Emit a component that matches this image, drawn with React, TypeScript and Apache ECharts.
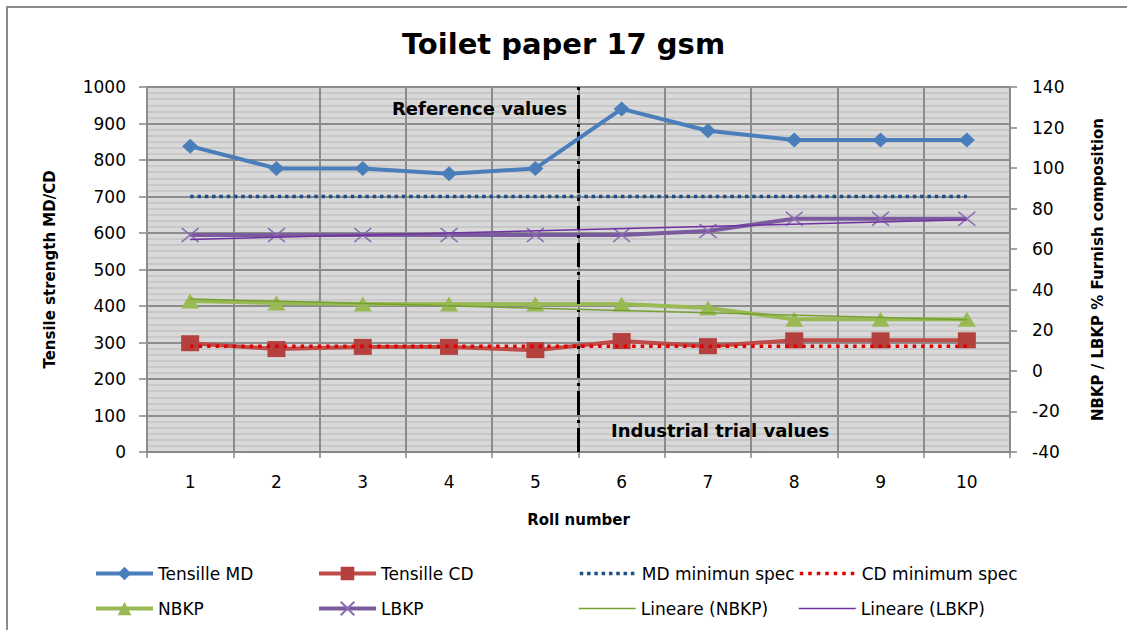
import React, { useEffect, useRef } from "react";
import * as echarts from "echarts";

// ---- data ----
const rolls = ["1", "2", "3", "4", "5", "6", "7", "8", "9", "10"];
const tensileMD = [838, 777, 777, 762, 777, 940, 880, 855, 855, 855];
const tensileCD = [298, 282, 288, 288, 279, 304, 290, 306, 306, 306];
const mdMinSpec = [700, 700, 700, 700, 700, 700, 700, 700, 700, 700];
const cdMinSpec = [290, 290, 290, 290, 290, 290, 290, 290, 290, 290];
const nbkp = [34.5, 33.5, 33, 33, 33, 33, 31, 25.5, 25.5, 25.5];
const lbkp = [67, 67, 67, 67, 67, 67, 69, 75, 75, 75];
const trendX = [1, 10];
const nbkpTrend = [35.5, 25.2];
const lbkpTrend = [64.8, 74.5];
const dividerAt = 5.5;

const leftAxis = { min: 0, max: 1000, interval: 100 };
const rightAxis = { min: -40, max: 140, interval: 20 };

const FONT = "DejaVu Sans";

export default function App() {
  const ref = useRef<HTMLDivElement>(null);
  useEffect(() => {
    document.body.style.margin = "0";
    const chart = echarts.init(ref.current!, null, { renderer: "svg" });
    const axisLineStyle = { color: "#868686", width: 1.5 };
    const labelStyle = {
      color: "#000",
      fontSize: 17,
      fontFamily: FONT,
      formatter: (v: any) => String(v),
    };
    const nameStyle = { color: "#000", fontSize: 15, fontWeight: "bold" as const, fontFamily: FONT };

    const legendItem = (
      name: string,
      left: number,
      top: number,
      width: number,
      hideSymbol = false
    ) => ({
      data: [name],
      left,
      top,
      padding: 0,
      itemWidth: 57,
      itemHeight: 17,
      itemGap: 0,
      lineStyle: { width },
      itemStyle: hideSymbol ? { opacity: 0 } : {},
      textStyle: { color: "#000", fontSize: 17, fontFamily: FONT },
    });

    const option: any = {
      animation: false,
      backgroundColor: "#fff",
      textStyle: { fontFamily: FONT },
      title: {
        text: "Toilet paper 17 gsm",
        left: "center",
        top: 24,
        textStyle: { fontSize: 29, fontWeight: "bold", color: "#000", fontFamily: FONT },
      },
      legend: [
        legendItem("Tensille MD", 94, 565, 4),
        legendItem("Tensille CD", 317, 565, 4),
        legendItem("MD minimun spec", 578, 565, 3.5, true),
        legendItem("CD minimum spec", 798, 565, 3.5, true),
        legendItem("NBKP", 94, 600, 4),
        legendItem("LBKP", 317, 600, 4),
        legendItem("Lineare (NBKP)", 578, 600, 1.5, true),
        legendItem("Lineare (LBKP)", 798, 600, 1.5, true),
      ],
      grid: {
        left: 147,
        top: 87,
        right: 117,
        bottom: 178,
        show: true,
        backgroundColor: "#d9d9d9",
        borderWidth: 0,
      },
      xAxis: [
        {
          type: "category",
          data: rolls,
          boundaryGap: true,
          name: "Roll number",
          nameLocation: "middle",
          nameGap: 60,
          nameTextStyle: nameStyle,
          axisLine: { lineStyle: axisLineStyle },
          axisTick: { show: true, length: 6, lineStyle: axisLineStyle },
          axisLabel: { color: "#000", fontSize: 17, fontFamily: FONT, margin: 21 },
          splitLine: { show: true, lineStyle: { color: "#8c8c8c", width: 2 } },
          z: 2,
        },
        {
          type: "value",
          min: 0.5,
          max: 10.5,
          interval: 1,
          position: "bottom",
          axisLine: { show: false },
          axisTick: { show: false },
          axisLabel: { show: false },
          splitLine: { show: true, lineStyle: { color: "#bdbdbd", width: 2 } },
          z: 1,
        },
      ],
      yAxis: [
        {
          type: "value",
          ...leftAxis,
          name: "Tensile strength MD/CD",
          nameLocation: "middle",
          nameRotate: 90,
          nameGap: 90,
          nameTextStyle: nameStyle,
          axisLine: { show: true, lineStyle: axisLineStyle },
          axisTick: { show: true, length: 8, lineStyle: axisLineStyle },
          axisLabel: { ...labelStyle, margin: 21 },
          splitLine: { show: true, lineStyle: { color: "#8c8c8c", width: 2 } },
          minorTick: { show: false, splitNumber: 6 },
          minorSplitLine: { show: true, lineStyle: { color: "#c2c2c2", width: 1.5 } },
        },
        {
          type: "value",
          ...rightAxis,
          position: "right",
          name: "NBKP / LBKP % Furnish composition",
          nameLocation: "middle",
          nameRotate: 90,
          nameGap: 80,
          nameTextStyle: nameStyle,
          axisLine: { show: true, lineStyle: axisLineStyle },
          axisTick: { show: true, length: 7, lineStyle: axisLineStyle },
          axisLabel: { ...labelStyle, margin: 22 },
          splitLine: { show: false },
        },
      ],
      series: [
        {
          name: "Tensille MD",
          type: "line",
          data: tensileMD,
          symbol: "diamond",
          symbolSize: [16, 15],
          color: "#4a7ebb",
          lineStyle: { width: 4, color: "#4a7ebb" },
          itemStyle: { color: "#4a7ebb" },
          z: 5,
        },
        {
          name: "Tensille CD",
          type: "line",
          data: tensileCD,
          symbol: "rect",
          symbolSize: [18, 16],
          color: "#be4b48",
          lineStyle: { width: 4, color: "#be4b48" },
          itemStyle: { color: "#b5413e" },
          z: 4,
        },
        {
          name: "MD minimun spec",
          type: "line",
          data: mdMinSpec,
          symbol: "none",
          color: "#1f4e86",
          lineStyle: { width: 3.5, color: "#1f4e86", type: [3.5, 3.8] },
          z: 4,
        },
        {
          name: "CD minimum spec",
          type: "line",
          data: cdMinSpec,
          symbol: "none",
          color: "#e00000",
          lineStyle: { width: 3.5, color: "#e00000", type: [3.5, 5] },
          z: 6,
        },
        {
          name: "NBKP",
          type: "line",
          yAxisIndex: 1,
          data: nbkp,
          symbol: "triangle",
          symbolSize: [18, 15],
          color: "#98b954",
          lineStyle: { width: 4, color: "#98b954" },
          itemStyle: { color: "#98b954" },
          z: 4,
        },
        {
          name: "LBKP",
          type: "line",
          yAxisIndex: 1,
          data: lbkp,
          symbol: "path://M0,0L16,13M16,0L0,13",
          symbolSize: [17, 14],
          color: "#7d5fa0",
          lineStyle: { width: 4, color: "#7a5b9d" },
          itemStyle: { color: "#8c6bb1", borderColor: "#8c6bb1", borderWidth: 1.5 },
          z: 4,
        },
        {
          name: "Lineare (NBKP)",
          type: "line",
          xAxisIndex: 1,
          yAxisIndex: 1,
          data: trendX.map((x, i) => [x, nbkpTrend[i]]),
          symbol: "none",
          color: "#77a033",
          lineStyle: { width: 1.5, color: "#77a033" },
          z: 5,
          markLine: {
            silent: true,
            symbol: "none",
            label: { show: false },
            lineStyle: { color: "#000", width: 3, type: [24, 5, 3, 5] },
            data: [{ xAxis: dividerAt }],
          },
        },
        {
          name: "Lineare (LBKP)",
          type: "line",
          xAxisIndex: 1,
          yAxisIndex: 1,
          data: trendX.map((x, i) => [x, lbkpTrend[i]]),
          symbol: "none",
          color: "#7030a0",
          lineStyle: { width: 1.5, color: "#7030a0" },
          z: 5,
        },
      ],
      graphic: [
        {
          type: "rect",
          shape: { x: 7, y: 7, width: 1300, height: 800 },
          style: { fill: "none", stroke: "#8a8a8a", lineWidth: 2 },
          silent: true,
          z: 100,
        },
        {
          type: "text",
          x: 392,
          y: 108,
          style: {
            text: "Reference values",
            fontSize: 18,
            fontWeight: "bold",
            fontFamily: FONT,
            fill: "#000",
            verticalAlign: "middle",
          },
          z: 50,
        },
        {
          type: "text",
          x: 611,
          y: 430,
          style: {
            text: "Industrial trial values",
            fontSize: 18,
            fontWeight: "bold",
            fontFamily: FONT,
            fill: "#000",
            verticalAlign: "middle",
          },
          z: 50,
        },
      ],
    };
    chart.setOption(option);
    return () => chart.dispose();
  }, []);
  return (
    <div
      ref={ref}
      style={{ position: "fixed", left: 0, top: 0, width: 1127, height: 630 }}
    />
  );
}
